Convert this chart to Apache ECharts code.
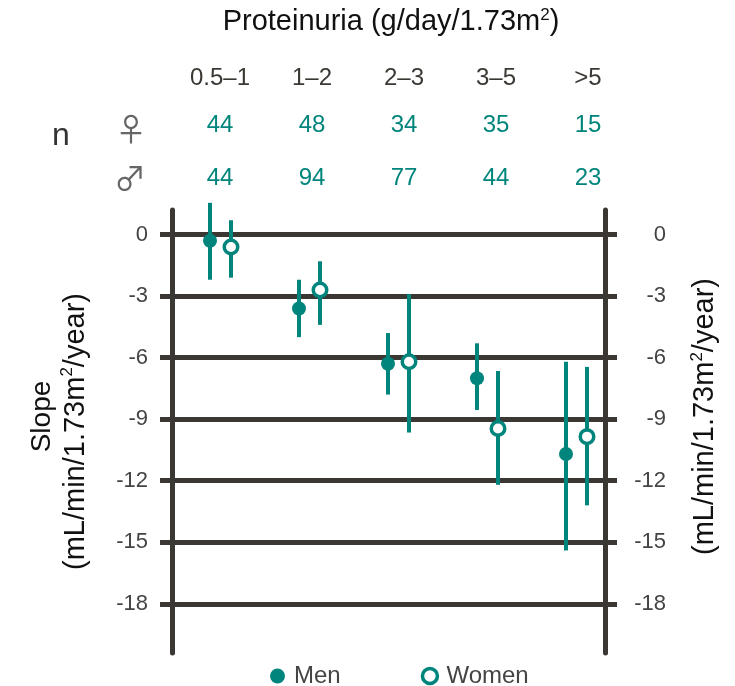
<!DOCTYPE html>
<html>
<head>
<meta charset="utf-8">
<script src="https://cdn.jsdelivr.net/npm/echarts@6/dist/echarts.min.js"></script>
<style>
  html, body { margin: 0; padding: 0; background: #fff; }
  #chart { width: 735px; height: 686px; }
</style>
</head>
<body>
<div id="chart"></div>
<script>
const categories = ["0.5–1", "1–2", "2–3", "3–5", ">5"];
const nWomen = [44, 48, 34, 35, 15];
const nMen = [44, 94, 77, 44, 23];

// slope estimates with 95% CI
const menMean = [-0.3, -3.6, -6.3, -7.0, -10.7];
const menLow = [-2.2, -5.0, -7.8, -8.55, -15.4];
const menHigh = [1.55, -2.2, -4.8, -5.3, -6.2];
const womenMean = [-0.6, -2.7, -6.2, -9.45, -9.85];
const womenLow = [-2.1, -4.4, -9.65, -12.2, -13.2];
const womenHigh = [0.7, -1.3, -2.9, -6.65, -6.45];

const yTicks = [0, -3, -6, -9, -12, -15, -18];

const teal = "#00857c";
const dark = "#3b3833";
const yMin = -20.4;
const yMax = 1.2;

const ciData = (low, high) => low.map((v, i) => [i, v, high[i]]);
const pointData = (mean) => mean.map((v, i) => [i, v]);

const errorBar = (offset) => (params, api) => {
  const x = api.value(0);
  const p1 = api.coord([x, api.value(1)]);
  const p2 = api.coord([x, api.value(2)]);
  return {
    type: "line",
    shape: { x1: p1[0] + offset, y1: p1[1], x2: p1[0] + offset, y2: p2[1] },
    style: { stroke: teal, lineWidth: 4 },
  };
};

const nameRich = {
  s: { fontSize: 28, padding: [0, 0, 0, 30] },
  b: { fontSize: 29 },
  sup: { fontSize: 17, verticalAlign: "top", padding: [0, 0, 12, 0] },
  r: { fontSize: 29, padding: [0, 0, 0, 30] },
};

const yFrame = (pos) => ({
  gridIndex: 0,
  type: "value",
  position: pos,
  min: yMin,
  max: yMax,
  axisLine: { show: true, lineStyle: { color: dark, width: 5 } },
  axisTick: {
    show: true,
    customValues: yTicks,
    length: 12,
    lineStyle: { color: dark, width: 5 },
  },
  axisLabel: {
    customValues: yTicks,
    fontSize: 22,
    color: "#444",
    margin: pos === "left" ? 24 : 61,
    align: "right",
  },
  splitLine: {
    show: pos === "left",
    lineStyle: { color: dark, width: 5 },
  },
});

const topAxis = (offset, color, formatter) => ({
  gridIndex: 2,
  type: "category",
  data: categories,
  position: "top",
  offset: offset,
  axisLine: { show: false },
  axisTick: { show: false },
  axisLabel: {
    interval: 0,
    margin: 0,
    verticalAlign: "middle",
    fontSize: 24,
    color: color,
    formatter: formatter,
  },
});

const option = {
  animation: false,
  backgroundColor: "#fff",
  textStyle: { fontFamily: "Liberation Sans" },
  title: {
    text: "Proteinuria (g/day/1.73m{sup|2})",
    left: 386,
    top: 2,
    textAlign: "center",
    textStyle: {
      fontSize: 29,
      fontWeight: "normal",
      color: "#111",
      rich: { sup: { fontSize: 17, verticalAlign: "top", padding: [0, 0, 12, 0] } },
    },
  },
  legend: {
    data: ["Men", { name: "Women", itemStyle: { borderWidth: 3.5 } }],
    left: 265,
    top: 659,
    itemWidth: 15,
    itemHeight: 15,
    itemGap: 80,
    textStyle: { fontSize: 24, color: "#444", padding: [0, 0, 0, 4] },
  },
  grid: [
    { left: 172, top: 210, width: 433, height: 443 },
    { left: 176, top: 210, width: 445, height: 443 },
    { left: 174, top: 210, width: 460, height: 443 },
  ],
  xAxis: [
    { gridIndex: 0, type: "value", min: 0, max: 1, show: false },
    { gridIndex: 1, type: "category", data: categories, show: false },
    topAxis(132, dark, (v) => v),
    topAxis(85, teal, (v, i) => String(nWomen[i])),
    topAxis(32, teal, (v, i) => String(nMen[i])),
  ],
  yAxis: [
    Object.assign(yFrame("left"), {
      name: "{s|Slope}\n{b|(mL/min/1.73m}{sup|2}{b|/year)}",
      nameLocation: "middle",
      nameRotate: 90,
      nameGap: 80,
      nameTextStyle: { color: "#111", lineHeight: 33, rich: nameRich },
    }),
    Object.assign(yFrame("right"), {
      name: "{r|(mL/min/1.73m}{sup|2}{b|/year)}",
      nameLocation: "middle",
      nameRotate: 90,
      nameGap: 84,
      nameTextStyle: { color: "#111", lineHeight: 32, rich: nameRich },
    }),
    { gridIndex: 1, type: "value", min: yMin, max: yMax, show: false },
    { gridIndex: 2, type: "value", min: yMin, max: yMax, show: false },
  ],
  graphic: [
    { type: "text", left: 52, top: 120, style: { text: "n", fontSize: 32, fill: "#333", fontFamily: "Liberation Sans" } },
    { type: "text", left: 115, top: 113, style: { text: "♀", fontSize: 32, fill: "#666", fontFamily: "Noto Sans CJK JP" } },
    { type: "text", left: 114, top: 162, style: { text: "♂", fontSize: 32, fill: "#666", fontFamily: "Noto Sans CJK JP" } },
  ],
  series: [
    {
      type: "custom",
      xAxisIndex: 1,
      yAxisIndex: 2,
      renderItem: errorBar(-10.5),
      encode: { x: 0, y: [1, 2] },
      data: ciData(menLow, menHigh),
      z: 2,
    },
    {
      type: "custom",
      xAxisIndex: 1,
      yAxisIndex: 2,
      renderItem: errorBar(10.5),
      encode: { x: 0, y: [1, 2] },
      data: ciData(womenLow, womenHigh),
      z: 2,
    },
    {
      name: "Men",
      type: "scatter",
      xAxisIndex: 1,
      yAxisIndex: 2,
      symbol: "circle",
      symbolSize: 14,
      symbolOffset: [-10.5, 0],
      itemStyle: { color: teal, opacity: 1 },
      data: pointData(menMean),
      z: 3,
    },
    {
      name: "Women",
      type: "scatter",
      xAxisIndex: 1,
      yAxisIndex: 2,
      symbol: "circle",
      symbolSize: 13.5,
      symbolOffset: [10.5, 0],
      itemStyle: { color: "#fff", borderColor: teal, borderWidth: 3.5, opacity: 1 },
      data: pointData(womenMean),
      z: 3,
    },
  ],
};

const myChart = echarts.init(document.getElementById("chart"));
myChart.setOption(option);
</script>
</body>
</html>
